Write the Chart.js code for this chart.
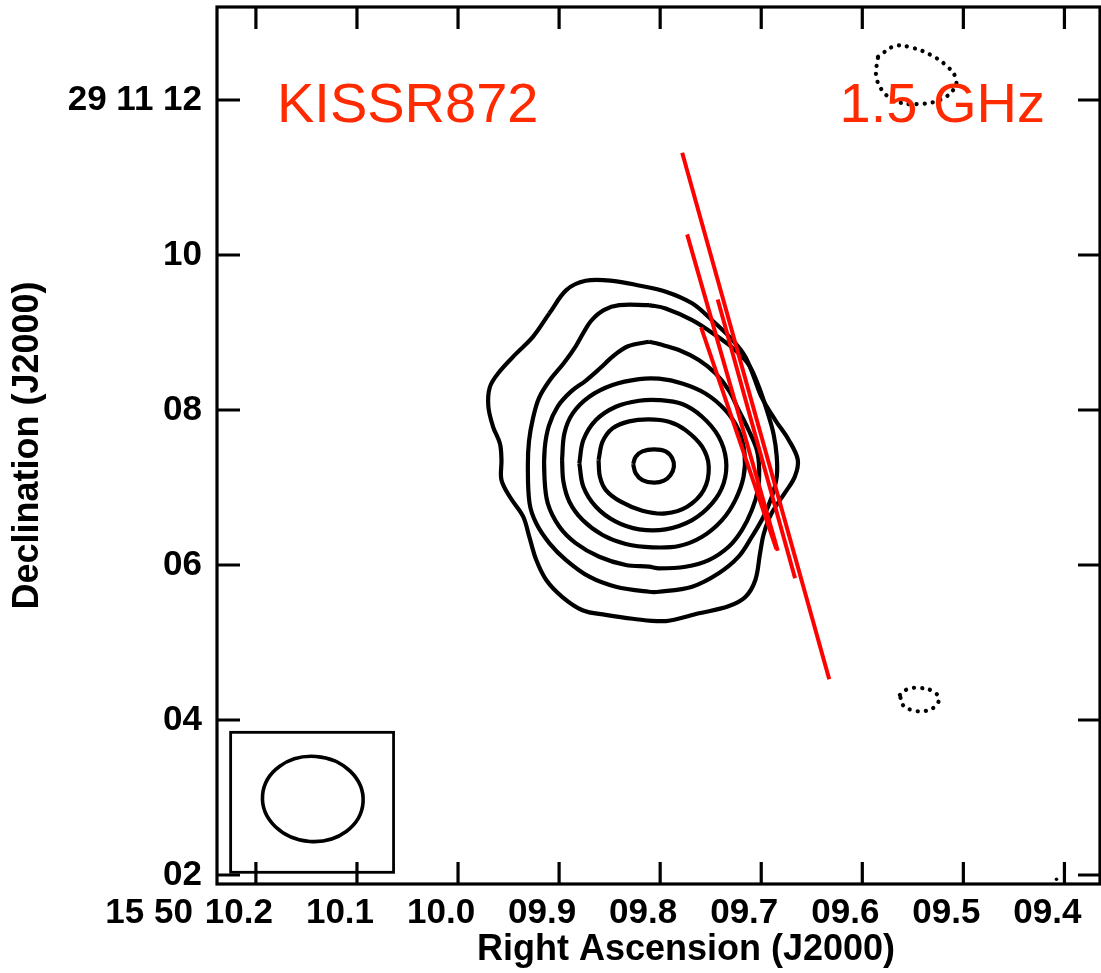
<!DOCTYPE html>
<html>
<head>
<meta charset="utf-8">
<script src="https://cdn.jsdelivr.net/npm/chart.js@4.4.0/dist/chart.umd.min.js"></script>
<style>
  html, body { margin: 0; padding: 0; background: #fff; overflow: hidden; }
  #wrap { width: 1104px; height: 973px; }
</style>
</head>
<body>
<div id="wrap"><canvas id="map" width="1104" height="973"></canvas></div>
<script>
// peak of the source: RA seconds past 15h50m, Dec arcsec past +29d11m
const ra0 = 9.8066;
const dec0 = 7.277;
const decDeg = 29 + 11 / 60 + 7.28 / 3600;

// axis ranges and ticks
const raRange = [9.3648, 10.2385];
const decRange = [1.884, 13.2];
const raTicks = [10.2, 10.1, 10.0, 9.9, 9.8, 9.7, 9.6, 9.5, 9.4];
const raLabels = ['10.2', '10.1', '10.0', '09.9', '09.8', '09.7', '09.6', '09.5', '09.4'];
const decTicks = [2, 4, 6, 8, 10, 12];
const decLabels = ['02', '04', '06', '08', '10', '29 11 12'];

// contour rings, offsets from the peak in arcsec [west, north]
const ring1 = [[-0.264,0.026],[-0.230,0.120],[-0.144,0.189],[0.006,0.215],[0.157,0.189],[0.243,0.099],
  [0.264,-0.009],[0.221,-0.116],[0.135,-0.189],[0.006,-0.215],[-0.144,-0.181],[-0.230,-0.095]];
const ring2 = [[-0.712,0.077],[-0.660,0.314],[-0.531,0.486],[-0.316,0.576],[-0.058,0.602],[0.200,0.572],
  [0.415,0.464],[0.630,0.249],[0.716,-0.009],[0.651,-0.310],[0.436,-0.525],[0.157,-0.611],
  [-0.144,-0.576],[-0.424,-0.460],[-0.617,-0.310],[-0.694,-0.138]];
const ring3 = [[-0.961,0.034],[-0.909,0.335],[-0.746,0.593],[-0.488,0.765],[-0.187,0.843],[0.071,0.851],
  [0.372,0.800],[0.630,0.636],[0.845,0.378],[0.940,0.077],[0.909,-0.224],[0.759,-0.482],
  [0.501,-0.697],[0.157,-0.817],[-0.187,-0.817],[-0.488,-0.718],[-0.746,-0.525],[-0.909,-0.267]];
const ring4 = [[-1.185,0.077],[-1.155,0.421],[-1.047,0.679],[-0.832,0.894],[-0.531,1.045],[-0.187,1.122],
  [0.071,1.127],[0.372,1.066],[0.673,0.937],[0.931,0.722],[1.103,0.464],[1.180,0.163],
  [1.167,-0.138],[1.060,-0.439],[0.888,-0.697],[0.630,-0.912],[0.329,-1.032],[-0.015,-1.049],
  [-0.359,-1.006],[-0.660,-0.890],[-0.918,-0.697],[-1.090,-0.460],[-1.167,-0.202]];
const ring5 = [[-0.058,1.604],[-0.330,1.545],[-0.520,1.420],[-0.700,1.255],[-0.880,1.100],[-1.070,0.960],
  [-1.240,0.770],[-1.355,0.520],[-1.410,0.220],[-1.413,-0.138],[-1.370,-0.481],[-1.219,-0.783],
  [-1.004,-0.997],[-0.703,-1.170],[-0.359,-1.277],[-0.058,-1.299],[0.071,-1.320],[0.415,-1.299],
  [0.716,-1.213],[0.974,-1.041],[1.146,-0.826],[1.275,-0.568],[1.352,-0.310],[1.370,-0.052],
  [1.339,0.206],[1.232,0.465],[1.103,0.723],[0.974,0.981],[0.802,1.196],[0.587,1.368],
  [0.329,1.497],[0.071,1.574]];
const ring6 = [[-0.058,2.077],[-0.445,2.077],[-0.645,2.012],[-0.800,1.883],[-0.903,1.729],[-1.006,1.548],
  [-1.161,1.329],[-1.342,1.109],[-1.484,0.877],[-1.561,0.619],[-1.613,0.323],[-1.628,0.000],
  [-1.606,-0.481],[-1.520,-0.739],[-1.348,-0.997],[-1.133,-1.213],[-0.832,-1.428],[-0.488,-1.557],
  [-0.058,-1.622],[0.071,-1.622],[0.501,-1.557],[0.845,-1.384],[1.103,-1.170],[1.275,-0.912],
  [1.425,-0.654],[1.533,-0.396],[1.597,-0.138],[1.597,0.120],[1.554,0.422],[1.468,0.722],
  [1.370,1.010],[1.240,1.300],[1.060,1.496],[0.802,1.690],[0.501,1.883],[0.157,2.034]];
const ring7 = [[-1.35,1.97],[-1.13,2.27],[-0.88,2.39],[-0.53,2.39],[-0.19,2.33],[0.16,2.25],[0.50,2.10],
  [0.76,1.88],[1.02,1.63],[1.19,1.41],[1.30,1.15],[1.40,0.89],[1.58,0.59],[1.75,0.34],[1.87,0.08],
  [1.83,-0.14],[1.70,-0.35],[1.53,-0.61],[1.43,-0.87],[1.38,-1.13],[1.32,-1.47],[1.19,-1.69],
  [0.97,-1.81],[0.59,-1.90],[0.16,-2.00],[-0.27,-1.97],[-0.62,-1.92],[-0.92,-1.86],[-1.18,-1.69],
  [-1.39,-1.47],[-1.52,-1.21],[-1.61,-0.91],[-1.69,-0.65],[-1.86,-0.40],[-1.97,-0.18],[-1.97,0.08],
  [-1.99,0.29],[-2.08,0.51],[-2.14,0.77],[-2.12,1.02],[-2.01,1.20],[-1.78,1.45],[-1.56,1.67]];

// negative (dotted) contours
const negNorth = [[2.909,5.280],[3.124,5.418],[3.339,5.401],[3.597,5.302],[3.812,5.151],[3.919,5.001],
  [3.898,4.872],[3.726,4.730],[3.425,4.670],[3.167,4.699],[2.995,4.808],[2.887,5.022]];
const negSouth = [[3.193,-2.954],[3.296,-2.877],[3.451,-2.864],[3.618,-2.903],[3.696,-2.993],
  [3.657,-3.096],[3.515,-3.161],[3.348,-3.148],[3.231,-3.083]];
const speck = [[5.222,-5.332]];

// polarization vectors, [start, end] offsets in arcsec
const vectors = [
  [[0.372, 4.042], [2.277, -2.752]],
  [[0.436, 2.989], [1.610, -1.093]],
  [[0.832, 2.150], [1.834, -1.449]],
  [[0.617, 1.789], [1.593, -1.071]]
];

// restoring beam (lower left)
const beamRA = 10.1437, beamDec = 2.981;
const beamMajor = 1.30, beamMinor = 1.10, beamTilt = 4;
const boxRA = [10.225, 10.0638], boxDec = [2.035, 3.841];

const raPerArcsec = 1 / (15 * Math.cos(decDeg * Math.PI / 180));
function toSky(p) {
  return { x: ra0 - p[0] * raPerArcsec, y: dec0 + p[1] };
}
function closed(ring) {
  const pts = ring.map(toSky);
  pts.push(pts[0]);
  return pts;
}

const FAMILY = '"Liberation Sans", Arial, Helvetica, sans-serif';
const tickFont = { family: FAMILY, size: 35, weight: 'bold' };

const datasets = [];
[ring1, ring2, ring3, ring4, ring5, ring6, ring7].forEach(r => {
  datasets.push({
    data: closed(r), showLine: true, borderColor: '#000', borderWidth: 4.2,
    pointRadius: 0, tension: 0.35, fill: false, order: 2
  });
});
[negNorth, negSouth].forEach(r => {
  datasets.push({
    data: closed(r), showLine: true, borderColor: '#000', borderWidth: 4.2,
    borderDash: [0.1, 8], borderCapStyle: 'round',
    pointRadius: 0, tension: 0.4, fill: false, order: 2
  });
});
datasets.push({
  data: speck.map(toSky), showLine: false, pointRadius: 1.8,
  backgroundColor: '#000', borderWidth: 0, order: 2
});
vectors.forEach(v => {
  datasets.push({
    data: v.map(toSky), showLine: true, borderColor: '#ff0000', borderWidth: 4,
    pointRadius: 0, tension: 0, fill: false, order: 0
  });
});

// frame, inward ticks, beam box and labels
const framePlugin = {
  id: 'frame',
  afterDraw(chart) {
    const { ctx, chartArea: a, scales: { x, y } } = chart;
    ctx.save();
    ctx.strokeStyle = '#000';
    ctx.lineWidth = 3.2;
    ctx.strokeRect(a.left, a.top, a.right - a.left, a.bottom - a.top);
    ctx.beginPath();
    raTicks.forEach(v => {
      const p = x.getPixelForValue(v);
      ctx.moveTo(p, a.bottom); ctx.lineTo(p, a.bottom - 22);
      ctx.moveTo(p, a.top); ctx.lineTo(p, a.top + 22);
    });
    decTicks.forEach(v => {
      const p = y.getPixelForValue(v);
      ctx.moveTo(a.left, p); ctx.lineTo(a.left + 23, p);
      ctx.moveTo(a.right, p); ctx.lineTo(a.right - 22, p);
    });
    ctx.stroke();

    // beam
    const bx0 = x.getPixelForValue(boxRA[0]), bx1 = x.getPixelForValue(boxRA[1]);
    const by0 = y.getPixelForValue(boxDec[0]), by1 = y.getPixelForValue(boxDec[1]);
    ctx.lineWidth = 2.8;
    ctx.strokeRect(bx0, by1, bx1 - bx0, by0 - by1);
    const ppa = Math.abs(y.getPixelForValue(1) - y.getPixelForValue(0));
    ctx.beginPath();
    ctx.lineWidth = 3.6;
    ctx.ellipse(x.getPixelForValue(beamRA), y.getPixelForValue(beamDec),
      beamMajor / 2 * ppa, beamMinor / 2 * ppa, beamTilt * Math.PI / 180, 0, Math.PI * 2);
    ctx.stroke();

    // prefix of the first RA label
    ctx.fillStyle = '#000';
    ctx.font = 'bold 35px ' + FAMILY;
    const c = x.getPixelForValue(raTicks[0]) - 17;
    const w = ctx.measureText(raLabels[0]).width;
    ctx.textAlign = 'right';
    ctx.textBaseline = 'middle';
    ctx.fillText('15 50', c - w / 2 - 12, a.bottom + 8 + 35 * 1.2 / 2);

    // x axis title
    ctx.font = 'bold 36px ' + FAMILY;
    ctx.textAlign = 'center';
    ctx.textBaseline = 'alphabetic';
    ctx.fillText('Right Ascension (J2000)', 686, 960);

    // source and frequency labels
    ctx.fillStyle = '#ff2a00';
    ctx.font = '56px ' + FAMILY;
    ctx.textAlign = 'left';
    ctx.fillText('KISSR872', 277, 122);
    ctx.textAlign = 'right';
    ctx.fillText('1.5 GHz', 1045, 122);
    ctx.restore();
  }
};

new Chart(document.getElementById('map'), {
  type: 'scatter',
  data: { datasets },
  options: {
    responsive: false,
    animation: false,
    devicePixelRatio: 1,
    layout: { padding: { top: 7, right: 2, left: 0, bottom: 0 } },
    plugins: { legend: { display: false }, tooltip: { enabled: false } },
    scales: {
      x: {
        type: 'linear', reverse: true, min: raRange[0], max: raRange[1],
        grid: { display: false, drawTicks: false },
        border: { display: false },
        afterBuildTicks: s => { s.ticks = raTicks.map(v => ({ value: v })); },
        afterFit: s => { s.height = 89; s.paddingLeft = 0; s.paddingRight = 0; },
        ticks: {
          callback: (v, i) => raLabels[i], labelOffset: -17, padding: 8,
          font: tickFont, color: '#000', autoSkip: false, maxRotation: 0
        }
      },
      y: {
        type: 'linear', min: decRange[0], max: decRange[1],
        grid: { display: false, drawTicks: false },
        border: { display: false },
        afterBuildTicks: s => { s.ticks = decTicks.map(v => ({ value: v })); },
        afterFit: s => { s.width = 217; s.paddingTop = 0; s.paddingBottom = 0; },
        ticks: {
          callback: (v, i) => decLabels[i], padding: 15,
          font: tickFont, color: '#000', autoSkip: false
        },
        title: {
          display: true, text: 'Declination (J2000)', color: '#000',
          font: { family: FAMILY, size: 36, weight: 'bold' },
          padding: { top: 6, bottom: 0 }
        }
      }
    }
  },
  plugins: [framePlugin]
});
</script>
</body>
</html>
